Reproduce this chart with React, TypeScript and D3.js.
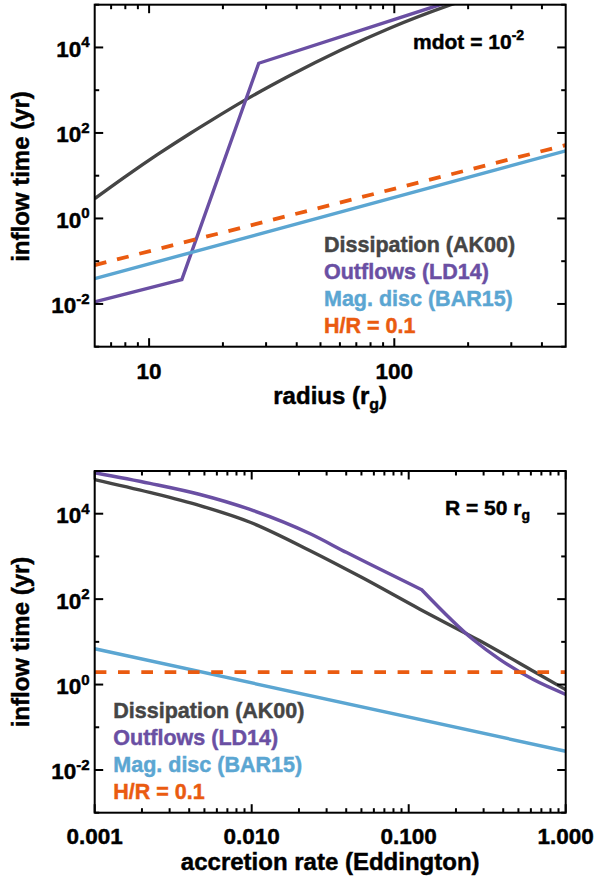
import React from "react";
import * as d3 from "d3";

// ---------- Data ----------
// Top panel: inflow time vs radius (mdot = 1e-2)
const topRadiusDiss = [6, 8, 10.8, 14.8, 18, 24.3, 37.7, 60, 95.7, 170, 200];
const topTimeDiss = [2.9, 9.5, 31, 100, 200, 562, 2240, 8500, 28200, 100000, 138000];
const topRadiusOut = [6, 13.6, 28, 160];
const topTimeOut = [0.0112, 0.0372, 4270, 108000];
const topRadiusMag = [6, 500];
const topTimeMag = [0.039, 38];
const topRadiusHR = [6, 500];
const topTimeHR = [0.081, 52];

// Bottom panel: inflow time vs accretion rate (R = 50 rg)
const botMdotDiss = [0.001, 0.00224, 0.00468, 0.00977, 0.0234, 0.0501, 0.117, 0.282, 0.631, 1.0];
const botTimeDiss = [63100, 31600, 15500, 6310, 1380, 324, 58.9, 10.7, 2.0, 0.76];
const botMdotOut = [0.001, 0.00225, 0.00469, 0.00975, 0.0236, 0.0403, 0.121, 0.258, 0.382, 0.622, 1.0];
const botTimeOut = [91200, 51300, 28200, 12600, 3390, 1230, 166, 11.2, 3.85, 1.31, 0.59];
const botOutKinkIndex = 6;
const botMdotMag = [0.001, 1.0];
const botTimeMag = [6.9, 0.0275];
const botMdotHR = [0.001, 1.0];
const botTimeHR = [1.95, 1.95];

// Axis ticks
const yMajorExps = [-2, 0, 2, 4];
const yMinorExps = [-3, -1, 1, 3, 5];
const topXMajor = [10, 100];
const topXMajorLabels = ["10", "100"];
const botXMajor = [0.001, 0.01, 0.1, 1];
const botXMajorLabels = ["0.001", "0.010", "0.100", "1.000"];

const legendLabels = ["Dissipation (AK00)", "Outflows (LD14)", "Mag. disc (BAR15)", "H/R = 0.1"];
const COLORS = ["#454545", "#6a4fa3", "#5ba6d2", "#ea5b10"];

const FONT = "'Liberation Sans', Arial, Helvetica, sans-serif";
const TEXT_STROKE = 0.45;

const L = 94.7;
const R = 565.7;

function minorTicks(lo: number, hi: number): number[] {
  const out: number[] = [];
  for (let e = Math.floor(Math.log10(lo)); e <= Math.ceil(Math.log10(hi)); e++) {
    for (let k = 2; k <= 9; k++) {
      const v = k * Math.pow(10, e);
      if (v > lo * 1.0001 && v < hi * 0.9999) out.push(v);
    }
  }
  return out;
}

type Series = {
  xs: number[];
  ys: number[];
  color: string;
  dash?: string;
  curve?: any;
  width: number;
  breakAt?: number;
};

function Panel(props: {
  id: string;
  top: number;
  bottom: number;
  xDomain: [number, number];
  xMajor: number[];
  xLabels: string[];
  series: Series[];
  tickBaseline: number;
  titleBaseline: number;
  title: React.ReactNode;
  yTitleY: number;
  legendX: number;
  legendY0: number;
  annotation: React.ReactNode;
}) {
  const { top, bottom } = props;
  const x = d3.scaleLog().domain(props.xDomain).range([L, R]);
  const y = d3.scaleLog().domain([1e-3, 1e5]).range([bottom, top]);
  const xMinor = minorTicks(props.xDomain[0], props.xDomain[1]);
  const major = 8.5;
  const minor = 4.5;
  const ink = "#000";
  return (
    <g>
      <defs>
        <clipPath id={props.id}>
          <rect x={L} y={top} width={R - L} height={bottom - top} />
        </clipPath>
      </defs>
      <g clipPath={`url(#${props.id})`}>
        {props.series.map((s, i) => {
          const pts = s.xs.map((xv, j) => [x(xv), y(s.ys[j])] as [number, number]);
          const gen = d3.line().curve(s.curve || d3.curveLinear);
          let d = "";
          if (s.breakAt !== undefined) {
            const a = gen(pts.slice(0, s.breakAt + 1)) || "";
            const b = gen(pts.slice(s.breakAt)) || "";
            d = a + "L" + b.slice(1);
          } else {
            d = gen(pts) || "";
          }
          return (
            <path
              key={i}
              d={d}
              fill="none"
              stroke={s.color}
              strokeWidth={s.width}
              strokeDasharray={s.dash}
              strokeLinejoin="miter"
            />
          );
        })}
      </g>
      {/* frame */}
      <rect x={L} y={top} width={R - L} height={bottom - top} fill="none" stroke={ink} strokeWidth={2} />
      {/* y ticks */}
      {yMajorExps.map((e) => {
        const yy = y(Math.pow(10, e));
        return (
          <g key={"ym" + e}>
            <line x1={L} x2={L + major} y1={yy} y2={yy} stroke={ink} strokeWidth={2} />
            <line x1={R} x2={R - major} y1={yy} y2={yy} stroke={ink} strokeWidth={2} />
            <text
              x={89.5}
              y={yy + 9.5}
              textAnchor="end"
              fontFamily={FONT}
              fontWeight="bold"
              fontSize={22.5}
              fill={ink}
              stroke={ink}
              strokeWidth={TEXT_STROKE}
            >
              10
              <tspan dy={-9.5} fontSize={15}>
                {String(e)}
              </tspan>
            </text>
          </g>
        );
      })}
      {yMinorExps.map((e) => {
        const yy = y(Math.pow(10, e));
        return (
          <g key={"yn" + e}>
            <line x1={L} x2={L + minor} y1={yy} y2={yy} stroke={ink} strokeWidth={2} />
            <line x1={R} x2={R - minor} y1={yy} y2={yy} stroke={ink} strokeWidth={2} />
          </g>
        );
      })}
      {/* x ticks */}
      {props.xMajor.map((v, i) => {
        const xx = x(v);
        return (
          <g key={"xm" + i}>
            <line x1={xx} x2={xx} y1={bottom} y2={bottom - major} stroke={ink} strokeWidth={2} />
            <line x1={xx} x2={xx} y1={top} y2={top + major} stroke={ink} strokeWidth={2} />
            <text
              x={xx}
              y={props.tickBaseline}
              textAnchor="middle"
              fontFamily={FONT}
              fontWeight="bold"
              fontSize={22.5}
              fill={ink}
              stroke={ink}
              strokeWidth={TEXT_STROKE}
            >
              {props.xLabels[i]}
            </text>
          </g>
        );
      })}
      {xMinor.map((v, i) => {
        const xx = x(v);
        return (
          <g key={"xn" + i}>
            <line x1={xx} x2={xx} y1={bottom} y2={bottom - minor} stroke={ink} strokeWidth={2} />
            <line x1={xx} x2={xx} y1={top} y2={top + minor} stroke={ink} strokeWidth={2} />
          </g>
        );
      })}
      {/* axis titles */}
      <text
        x={(L + R) / 2}
        y={props.titleBaseline}
        textAnchor="middle"
        fontFamily={FONT}
        fontWeight="bold"
        fontSize={24}
        fill={ink}
        stroke={ink}
        strokeWidth={TEXT_STROKE}
      >
        {props.title}
      </text>
      <text
        transform={`translate(28.5,${props.yTitleY}) rotate(-90)`}
        textAnchor="middle"
        fontFamily={FONT}
        fontWeight="bold"
        fontSize={24}
        fill={ink}
        stroke={ink}
        strokeWidth={TEXT_STROKE}
      >
        inflow time (yr)
      </text>
      {/* legend */}
      {legendLabels.map((lab, i) => (
        <text
          key={"lg" + i}
          x={props.legendX}
          y={props.legendY0 + i * 26.9}
          fontFamily={FONT}
          fontWeight="bold"
          fontSize={21.5}
          fill={COLORS[i]}
          stroke={COLORS[i]}
          strokeWidth={TEXT_STROKE}
        >
          {lab}
        </text>
      ))}
      {props.annotation}
    </g>
  );
}

export default function App() {
  const topSeries: Series[] = [
    { xs: topRadiusDiss, ys: topTimeDiss, color: COLORS[0], curve: d3.curveMonotoneX, width: 3.4 },
    { xs: topRadiusOut, ys: topTimeOut, color: COLORS[1], width: 3.4 },
    { xs: topRadiusMag, ys: topTimeMag, color: COLORS[2], width: 3.4 },
    { xs: topRadiusHR, ys: topTimeHR, color: COLORS[3], dash: "12,11", width: 3.8 },
  ];
  const botSeries: Series[] = [
    { xs: botMdotDiss, ys: botTimeDiss, color: COLORS[0], curve: d3.curveMonotoneX, width: 3.4 },
    {
      xs: botMdotOut,
      ys: botTimeOut,
      color: COLORS[1],
      curve: d3.curveMonotoneX,
      width: 3.4,
      breakAt: botOutKinkIndex,
    },
    { xs: botMdotMag, ys: botTimeMag, color: COLORS[2], width: 3.4 },
    { xs: botMdotHR, ys: botTimeHR, color: COLORS[3], dash: "11.7,11.6", width: 3.8 },
  ];
  return (
    <div style={{ position: "absolute", left: 0, top: 0, width: 599, height: 878, background: "#fff" }}>
      <svg width={599} height={878} style={{ display: "block" }}>
        <rect x={0} y={0} width={599} height={878} fill="#fff" />
        <Panel
          id="clipTop"
          top={4.7}
          bottom={346.7}
          xDomain={[6, 500]}
          xMajor={topXMajor}
          xLabels={topXMajorLabels}
          series={topSeries}
          tickBaseline={378.5}
          titleBaseline={404}
          title={
            <>
              radius (r
              <tspan dy={6} fontSize={16}>
                g
              </tspan>
              <tspan dy={-6}>)</tspan>
            </>
          }
          yTitleY={176.5}
          legendX={324}
          legendY0={252}
          annotation={
            <text
              x={413}
              y={48.5}
              fontFamily={FONT}
              fontWeight="bold"
              fontSize={21}
              fill="#000"
              stroke="#000"
              strokeWidth={TEXT_STROKE}
            >
              mdot = 10
              <tspan dy={-9} fontSize={14}>
                -2
              </tspan>
            </text>
          }
        />
        <Panel
          id="clipBot"
          top={471}
          bottom={812.7}
          xDomain={[0.001, 1]}
          xMajor={botXMajor}
          xLabels={botXMajorLabels}
          series={botSeries}
          tickBaseline={843.5}
          titleBaseline={870}
          title={<>accretion rate (Eddington)</>}
          yTitleY={642}
          legendX={113.3}
          legendY0={718.3}
          annotation={
            <text
              x={445}
              y={515}
              fontFamily={FONT}
              fontWeight="bold"
              fontSize={21}
              fill="#000"
              stroke="#000"
              strokeWidth={TEXT_STROKE}
            >
              R = 50 r
              <tspan dy={5} fontSize={14}>
                g
              </tspan>
            </text>
          }
        />
      </svg>
    </div>
  );
}
